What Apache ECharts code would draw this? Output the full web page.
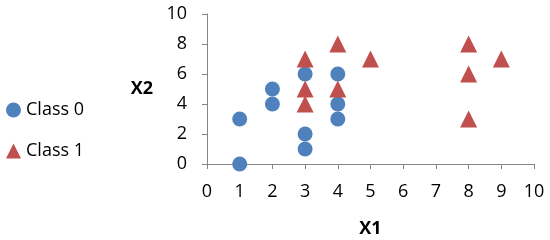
<!DOCTYPE html>
<html lang="en">
<head>
    <meta charset="UTF-8">
    <title>Scatter</title>
    <script src="https://cdn.jsdelivr.net/npm/echarts@6/dist/echarts.min.js"></script>
</head>
<body style="margin:0">
    <div id="main" style="width: 550px;height:240px;"></div>
    <script type="text/javascript">
        // data
        var class0 = [[1, 0], [1, 3], [2, 4], [2, 5], [3, 1], [3, 2], [3, 6], [4, 3], [4, 4], [4, 6]];
        var class1 = [[3, 7], [3, 5], [3, 4], [4, 8], [4, 5], [5, 7], [8, 8], [8, 6], [8, 3], [9, 7]];
        var seriesNames = ['Class 0', 'Class 1'];

        var font = 'Open Sans';
        var axisGray = '#868686';

        var myChart = echarts.init(document.getElementById('main'));
        var option = {
            animation: false,
            textStyle: {fontFamily: font},
            // fixed plot box, don't let v6 shrink it for the labels
            grid: {left: 207, right: 16, top: 14, bottom: 76, outerBoundsMode: 'none'},
            // legend on the left, two items far apart
            legend: {
                orient: 'vertical',
                left: 1,
                top: 95,
                itemWidth: 15,
                itemHeight: 15,
                itemGap: 21,
                textStyle: {fontFamily: font, fontSize: 18, lineHeight: 20, color: '#000'},
                data: [
                    {name: seriesNames[0], icon: 'circle'},
                    {name: seriesNames[1], icon: 'triangle'}
                ]
            },
            xAxis: {
                type: 'value',
                min: 0, max: 10, interval: 1,
                name: 'X1',
                nameLocation: 'middle',
                nameGap: 56,
                nameTextStyle: {fontFamily: font, fontSize: 18, fontWeight: 'bold', color: '#000'},
                splitLine: {show: false},
                axisLine: {lineStyle: {color: axisGray}},
                axisTick: {length: 5, lineStyle: {color: axisGray}},
                axisLabel: {margin: 19, fontSize: 18, color: '#000', fontFamily: font}
            },
            yAxis: {
                type: 'value',
                min: 0, max: 10, interval: 2,
                name: 'X2',
                nameLocation: 'middle',
                nameRotate: 0,
                nameGap: 54,
                nameTextStyle: {fontFamily: font, fontSize: 18, fontWeight: 'bold', color: '#000'},
                splitLine: {show: false},
                axisLine: {show: true, lineStyle: {color: axisGray}},
                axisTick: {show: true, length: 5, lineStyle: {color: axisGray}},
                axisLabel: {margin: 20, fontSize: 18, color: '#000', fontFamily: font}
            },
            series: [
                {
                    name: seriesNames[0],
                    type: 'scatter',
                    symbol: 'circle',
                    symbolSize: 15,
                    clip: false,
                    itemStyle: {color: '#4F81BD', opacity: 1},
                    data: class0
                },
                {
                    name: seriesNames[1],
                    type: 'scatter',
                    symbol: 'triangle',
                    symbolSize: 17,
                    clip: false,
                    itemStyle: {color: '#C0504D', opacity: 1},
                    data: class1
                }
            ]
        };

        myChart.setOption(option);
    </script>
</body>
</html>
